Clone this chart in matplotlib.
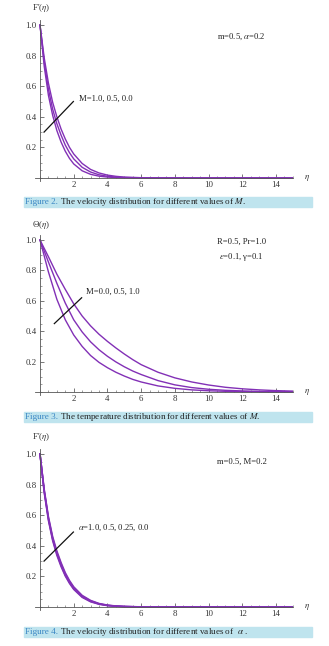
import numpy as np
import matplotlib
matplotlib.use('Agg')
import matplotlib.pyplot as plt
from matplotlib.ticker import MultipleLocator
from matplotlib.patches import Rectangle

plt.rcParams['font.family'] = ['Liberation Serif', 'DejaVu Serif']
plt.rcParams['mathtext.fontset'] = 'stix'

# ---- data ----
# Figure 2: F'(eta) for M = 1.0, 0.5, 0.0
eta_f = [0, 0.25, 0.5, 0.75, 1.0, 1.25, 1.5, 1.75, 2.0, 2.5, 3.0, 3.5,
         4.0, 4.5, 5.0, 6.0, 7.0, 8.0, 10.0, 12.0, 15.0]
f_m10 = [1, 0.73, 0.54, 0.41, 0.31, 0.235, 0.175, 0.128, 0.092, 0.047, 0.024, 0.012,
         0.006, 0.003, 0.0015, 0.0004, 0.0001, 0, 0, 0, 0]
f_m05 = [1, 0.76, 0.58, 0.45, 0.355, 0.28, 0.215, 0.165, 0.125, 0.07, 0.039, 0.021,
         0.011, 0.006, 0.003, 0.0009, 0.0003, 0.0001, 0, 0, 0]
f_m00 = [1, 0.785, 0.62, 0.495, 0.40, 0.32, 0.255, 0.20, 0.157, 0.095, 0.056, 0.033,
         0.019, 0.011, 0.006, 0.002, 0.0007, 0.0002, 0, 0, 0]

# Figure 3: Theta(eta) for M = 0.0, 0.5, 1.0
eta_t = [0, 0.5, 1, 1.5, 2, 2.5, 3, 3.5, 4, 4.5, 5, 5.5, 6, 7, 8, 9, 10,
         11, 12, 13, 14, 15]
t_m00 = [1, 0.79, 0.61, 0.475, 0.375, 0.30, 0.24, 0.195, 0.16, 0.13, 0.105, 0.083,
         0.066, 0.04, 0.024, 0.014, 0.008, 0.0045, 0.0025, 0.0014, 0.0008, 0.0005]
t_m05 = [1, 0.855, 0.715, 0.585, 0.475, 0.395, 0.33, 0.278, 0.235, 0.198, 0.166, 0.138,
         0.115, 0.075, 0.047, 0.029, 0.018, 0.011, 0.007, 0.004, 0.0025, 0.0015]
t_m10 = [1, 0.89, 0.775, 0.675, 0.58, 0.50, 0.435, 0.38, 0.333, 0.29, 0.25, 0.213,
         0.18, 0.13, 0.093, 0.066, 0.046, 0.031, 0.021, 0.014, 0.009, 0.006]

# Figure 4: F'(eta) for alpha = 1.0, 0.5, 0.25, 0.0
a_10 = [1, 0.748, 0.565, 0.434, 0.338, 0.264, 0.202, 0.154, 0.115, 0.063, 0.034, 0.018,
        0.009, 0.005, 0.0025, 0.0007, 0.0002, 0, 0, 0, 0]
a_05 = [1, 0.755, 0.573, 0.442, 0.347, 0.272, 0.208, 0.160, 0.120, 0.067, 0.037, 0.0195,
        0.010, 0.0055, 0.0028, 0.0008, 0.0002, 0.0001, 0, 0, 0]
a_025 = [1, 0.762, 0.582, 0.451, 0.356, 0.281, 0.216, 0.166, 0.126, 0.071, 0.040, 0.021,
         0.011, 0.006, 0.003, 0.0009, 0.0003, 0.0001, 0, 0, 0]
a_00 = [1, 0.769, 0.590, 0.460, 0.366, 0.290, 0.224, 0.173, 0.132, 0.076, 0.043, 0.023,
        0.0125, 0.0068, 0.0035, 0.001, 0.0003, 0.0001, 0, 0, 0]

W, H = 329, 646
purple = '#8230b6'
fig = plt.figure(figsize=(W / 100, H / 100), dpi=100)
renderer = fig.canvas.get_renderer()


def fx(x):
    return x / W


def fy(y):
    return 1 - y / H


def panel(y_zero, y_one):
    # place axes so that data 0..15 / 0..1 land on the pixel positions of the original
    sx = 16.86
    sy = y_zero - y_one
    xlim = (-0.3, 15.0)
    ylim = (-0.02, 1.03)
    left = 40 + xlim[0] * sx
    bottom = y_zero - ylim[0] * sy
    ax = fig.add_axes([fx(left), fy(bottom), (xlim[1] - xlim[0]) * sx / W,
                       (ylim[1] - ylim[0]) * sy / H])
    ax.set_xlim(xlim)
    ax.set_ylim(ylim)
    ax.patch.set_alpha(0)
    for s in ['top', 'right']:
        ax.spines[s].set_visible(False)
    for s in ['left', 'bottom']:
        ax.spines[s].set_position(('data', 0))
        ax.spines[s].set_color('#555555')
        ax.spines[s].set_linewidth(0.6)
    ax.set_xticks([2, 4, 6, 8, 10, 12, 14])
    ax.set_yticks([0.2, 0.4, 0.6, 0.8, 1.0])
    ax.xaxis.set_minor_locator(MultipleLocator(0.5))
    ax.yaxis.set_minor_locator(MultipleLocator(0.05))
    ax.tick_params(which='major', direction='in', length=3, width=0.5, color='#444444',
                   labelsize=6.3, labelcolor='#333333', pad=2.5)
    ax.tick_params(which='minor', direction='in', length=1.6, width=0.4, color='#555555')
    return ax


def caption(y_top, num, rest):
    fig.patches.append(Rectangle((fx(24), fy(y_top + 10)), 288 / W, 10 / H,
                                 transform=fig.transFigure, color='#bfe4ee', zorder=0))
    t1 = fig.text(fx(25), fy(y_top + 5), 'Figure %d.' % num, fontsize=6.6,
                  color='#3a86c4', va='center', ha='left', zorder=5)
    bb = t1.get_window_extent(renderer)
    fig.text(bb.x1 / W, fy(y_top + 5), rest, fontsize=6.6, color='#222222',
             va='center', ha='left', zorder=5)


# ---------- Figure 2 ----------
ax1 = panel(178, 25)
for yv in [f_m10, f_m05, f_m00]:
    ax1.plot(eta_f, yv, color=purple, lw=1.0)
ax1.plot([0.24, 1.98], [0.30, 0.50], color='#111111', lw=0.9)
ax1.text(2.3, 0.52, 'M=1.0, 0.5, 0.0', fontsize=6.2, color='#222222', va='center')
ax1.text(10.5, 0.925, r'm=0.5, $\alpha$=0.2', fontsize=6.2, color='#222222', va='center')
fig.text(fx(32), fy(8), r"F'($\eta$)", fontsize=6.5, color='#333333', va='center')
fig.text(fx(304), fy(178), r'$\eta$', fontsize=6.5, color='#333333', va='center')
caption(197, 2, ' The velocity distribution for different values of $M$.')

# ---------- Figure 3 ----------
ax2 = panel(392, 240)
for yv in [t_m00, t_m05, t_m10]:
    ax2.plot(eta_t, yv, color=purple, lw=1.0)
ax2.plot([0.85, 2.47], [0.45, 0.62], color='#111111', lw=0.9)
ax2.text(2.7, 0.66, 'M=0.0, 0.5, 1.0', fontsize=6.2, color='#222222', va='center')
ax2.text(10.5, 0.99, 'R=0.5, Pr=1.0', fontsize=6.2, color='#222222', va='center')
ax2.text(10.6, 0.89, r'$\varepsilon$=0.1, γ=0.1', fontsize=6.2, color='#222222', va='center')
fig.text(fx(32), fy(225), r'Θ($\eta$)', fontsize=6.5, color='#333333', va='center')
fig.text(fx(304), fy(392), r'$\eta$', fontsize=6.5, color='#333333', va='center')
caption(412, 3, ' The temperature distribution for different values of $M$.')

# ---------- Figure 4 ----------
ax3 = panel(607, 454)
for yv in [a_10, a_05, a_025, a_00]:
    ax3.plot(eta_f, yv, color=purple, lw=1.1)
ax3.plot([0.24, 1.98], [0.30, 0.49], color='#111111', lw=0.9)
ax3.text(2.25, 0.52, r'$\alpha$=1.0, 0.5, 0.25, 0.0', fontsize=6.2, color='#222222', va='center')
ax3.text(10.5, 0.95, 'm=0.5, M=0.2', fontsize=6.2, color='#222222', va='center')
fig.text(fx(32), fy(437), r"F'($\eta$)", fontsize=6.5, color='#333333', va='center')
fig.text(fx(304), fy(607), r'$\eta$', fontsize=6.5, color='#333333', va='center')
caption(627, 4, r' The velocity distribution for different values of  $\alpha$ .')

fig.savefig('out.png', dpi=100)
